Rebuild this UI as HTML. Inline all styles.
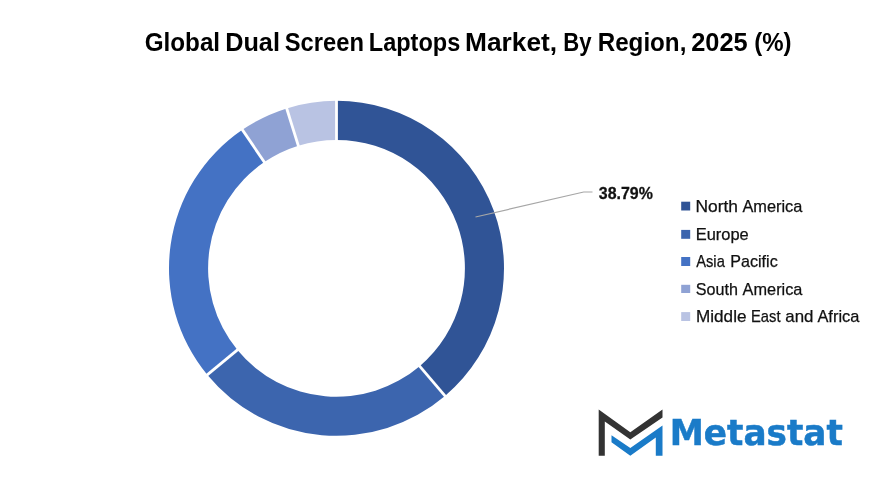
<!DOCTYPE html>
<html lang="en">
<head>
<meta charset="utf-8">
<title>Global Dual Screen Laptops Market, By Region, 2025 (%)</title>
<style>
html,body{margin:0;padding:0;background:#fff;}
body{width:880px;height:484px;overflow:hidden;font-family:"Liberation Sans",sans-serif;}
svg{display:block;}
.title{font-family:"Liberation Sans",sans-serif;font-weight:700;font-size:25.2px;fill:#000;}
.lg{font-family:"Liberation Sans",sans-serif;font-size:16.1px;fill:#111;stroke:#111;stroke-width:0.25px;}
.dl{font-family:"Liberation Sans",sans-serif;font-weight:700;font-size:17.3px;fill:#111;stroke:#111;stroke-width:0.3px;}
.brand{font-family:"DejaVu Sans","Liberation Sans",sans-serif;font-weight:700;font-size:35.2px;fill:#1A7BC8;stroke:#1A7BC8;stroke-width:0.5px;}
</style>
</head>
<body>
<svg width="880" height="484" viewBox="0 0 880 484">
<rect width="880" height="484" fill="#fff"/>
<g>
<text y="51.0" x="144.69" class="title" textLength="75.41" lengthAdjust="spacingAndGlyphs">Global</text>
<text y="51.0" x="225.18" class="title" textLength="54.75" lengthAdjust="spacingAndGlyphs">Dual</text>
<text y="51.0" x="284.69" class="title" textLength="79.21" lengthAdjust="spacingAndGlyphs">Screen</text>
<text y="51.0" x="368.81" class="title" textLength="91.44" lengthAdjust="spacingAndGlyphs">Laptops</text>
<text y="51.0" x="465.06" class="title" textLength="92.04" lengthAdjust="spacingAndGlyphs">Market,</text>
<text y="51.0" x="563.16" class="title" textLength="28.30" lengthAdjust="spacingAndGlyphs">By</text>
<text y="51.0" x="597.72" class="title" textLength="88.64" lengthAdjust="spacingAndGlyphs">Region,</text>
<text y="51.0" x="691.24" class="title" textLength="56.51" lengthAdjust="spacingAndGlyphs">2025</text>
<text y="51.0" x="754.20" class="title" textLength="37.32" lengthAdjust="spacingAndGlyphs">(%)</text>
</g>
<g>
<path d="M336.50 100.80A167.5 167.5 0 0 1 444.97 395.93L419.65 366.14A128.4 128.4 0 0 0 336.50 139.90Z" fill="#305496"/>
<path d="M444.97 395.93A167.5 167.5 0 0 1 207.25 374.84L237.42 349.97A128.4 128.4 0 0 0 419.65 366.14Z" fill="#3C65AE"/>
<path d="M207.25 374.84A167.5 167.5 0 0 1 242.35 129.76L264.33 162.10A128.4 128.4 0 0 0 237.42 349.97Z" fill="#4472C4"/>
<path d="M242.35 129.76A167.5 167.5 0 0 1 286.69 108.38L298.32 145.71A128.4 128.4 0 0 0 264.33 162.10Z" fill="#8FA2D4"/>
<path d="M286.69 108.38A167.5 167.5 0 0 1 336.50 100.80L336.50 139.90A128.4 128.4 0 0 0 298.32 145.71Z" fill="#B9C3E3"/>
<line x1="336.50" y1="98.80" x2="336.50" y2="141.90" stroke="#fff" stroke-width="2.8"/>
<line x1="446.27" y1="397.46" x2="418.36" y2="364.62" stroke="#fff" stroke-width="2.8"/>
<line x1="205.71" y1="376.12" x2="238.97" y2="348.70" stroke="#fff" stroke-width="2.8"/>
<line x1="241.23" y1="128.11" x2="265.45" y2="163.76" stroke="#fff" stroke-width="2.8"/>
<line x1="286.09" y1="106.47" x2="298.91" y2="147.62" stroke="#fff" stroke-width="2.8"/>
</g>
<polyline points="475.5,217 583.7,192 592.5,192" fill="none" stroke="#A6A6A6" stroke-width="1.2"/>
<text x="598.87" y="198.6" class="dl" textLength="54.05" lengthAdjust="spacingAndGlyphs">38.79%</text>
<g>
<rect x="681.2" y="201.7" width="9" height="8.8" fill="#305496"/>
<text x="695.50" y="212.2" class="lg" textLength="42.51" lengthAdjust="spacingAndGlyphs">North</text>
<text x="742.40" y="212.2" class="lg" textLength="60.00" lengthAdjust="spacingAndGlyphs">America</text>
<rect x="681.2" y="229.9" width="9" height="8.9" fill="#3C65AE"/>
<text x="695.79" y="239.7" class="lg" textLength="52.97" lengthAdjust="spacingAndGlyphs">Europe</text>
<rect x="681.2" y="257.0" width="9" height="9.0" fill="#4472C4"/>
<text x="696.19" y="267.2" class="lg" textLength="28.63" lengthAdjust="spacingAndGlyphs">Asia</text>
<text x="730.37" y="267.2" class="lg" textLength="47.33" lengthAdjust="spacingAndGlyphs">Pacific</text>
<rect x="681.2" y="284.8" width="9" height="8.2" fill="#8FA2D4"/>
<text x="695.76" y="294.7" class="lg" textLength="42.11" lengthAdjust="spacingAndGlyphs">South</text>
<text x="742.61" y="294.7" class="lg" textLength="59.80" lengthAdjust="spacingAndGlyphs">America</text>
<rect x="681.2" y="312.1" width="9" height="8.9" fill="#B9C3E3"/>
<text x="696.02" y="322.3" class="lg" textLength="50.47" lengthAdjust="spacingAndGlyphs">Middle</text>
<text x="751.00" y="322.3" class="lg" textLength="29.56" lengthAdjust="spacingAndGlyphs">East</text>
<text x="785.25" y="322.3" class="lg" textLength="28.15" lengthAdjust="spacingAndGlyphs">and</text>
<text x="817.43" y="322.3" class="lg" textLength="41.96" lengthAdjust="spacingAndGlyphs">Africa</text>
</g>
<g>
<polygon points="598.7,409.4 630.3,432.2 662.5,409.4 662.5,417.5 630.3,439.6 604.8,421.5 604.8,455.7 598.7,455.7" fill="#333"/>
<polygon points="662.5,425.5 662.5,455.7 655.8,455.7 655.8,437.6 630.3,455.7 611.5,442.3 611.5,435.2 630.3,448" fill="#1A7BC8"/>
<text x="669.73" y="444.8" class="brand" textLength="173.06" lengthAdjust="spacingAndGlyphs">Metastat</text>
</g>
</svg>
</body>
</html>
